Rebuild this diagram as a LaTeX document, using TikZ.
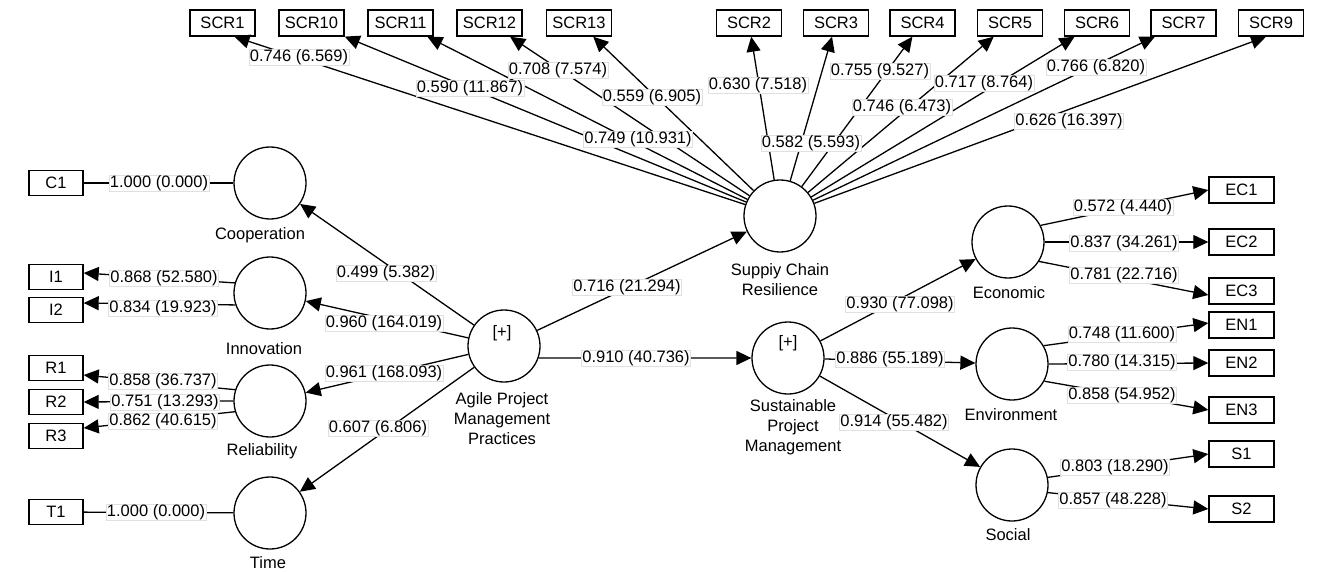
\documentclass[tikz,border=0pt]{standalone}
\usepackage{fontspec}
\setmainfont{Liberation Sans}
\usetikzlibrary{arrows.meta}
\begin{document}
\begin{tikzpicture}[x=1pt,y=-1pt,
  every node/.style={font=\fontsize{16.5}{20}\selectfont},
  lv/.style={circle, draw, line width=1.3pt, minimum size=72pt, inner sep=0pt},
  ind/.style={draw, line width=1.4pt, minimum width=54pt, minimum height=25pt, inner sep=0pt},
  indr/.style={ind, minimum width=65pt, minimum height=26pt},
  lbl/.style={fill=white, draw=black!12, line width=0.4pt, inner xsep=1pt, inner ysep=0.5pt, text height=12pt, text depth=3.5pt},
  lvtext/.style={inner sep=0pt, align=center},
  conn/.style={line width=1.3pt},
  arr/.style={conn, -{Triangle[length=15pt,width=14pt]}}
]
\useasboundingbox (0,0) rectangle (1322,572);

% latent variables
\node[lv] (coop) at (270,183) {};
\node[lv] (inn) at (270,293) {};
\node[lv] (rel) at (270,401) {};
\node[lv] (time) at (270,513) {};
\node[lv] (agile) at (504,346) {};
\node[lv] (scr) at (780,216) {};
\node[lv] (sust) at (788,358) {};
\node[lv] (eco) at (1008,242) {};
\node[lv] (env) at (1012,364) {};
\node[lv] (soc) at (1012,485) {};

% texts of latent variables
\node[lvtext] (tcoop) at (260,235) {Cooperation};
\node[lvtext] (tinn) at (264,349) {Innovation};
\node[lvtext] (trel) at (262,451) {Reliability};
\node[lvtext] (ttime) at (268,563) {Time};
\node[lvtext] (tagile) at (502,419) {Agile Project\\Management\\Practices};
\node[lvtext] (tscr) at (780,280) {Suppiy Chain\\Resilience};
\node[lvtext] (tsust) at (793,427) {Sustainable\\Project\\Management};
\node[lvtext] (teco) at (1009,293) {Economic};
\node[lvtext] (tenv) at (1011,415) {Environment};
\node[lvtext] (tsoc) at (1008,535) {Social};
\node[lvtext] (pagile) at (502,333) {[+]};
\node[lvtext] (psust) at (788,343) {[+]};

% indicators left
\node[ind] (c1) at (56,183) {C1};
\node[ind] (i1) at (56,277) {I1};
\node[ind] (i2) at (56,310) {I2};
\node[ind] (r1) at (56,368) {R1};
\node[ind] (r2) at (56,402) {R2};
\node[ind] (r3) at (56,436) {R3};
\node[ind] (t1) at (56,512) {T1};

% indicators right
\node[indr] (ec1) at (1241.5,190) {EC1};
\node[indr] (ec2) at (1241.5,242) {EC2};
\node[indr] (ec3) at (1241.5,291) {EC3};
\node[indr] (en1) at (1241.5,325) {EN1};
\node[indr] (en2) at (1241.5,363) {EN2};
\node[indr] (en3) at (1241.5,410) {EN3};
\node[indr] (so1) at (1241.5,454) {S1};
\node[indr] (so2) at (1241.5,509) {S2};

% indicators top
\node[indr] (scr1) at (222.5,23) {SCR1};
\node[indr] (scr10) at (311.5,23) {SCR10};
\node[indr] (scr11) at (400.5,23) {SCR11};
\node[indr] (scr12) at (489.5,23) {SCR12};
\node[indr] (scr13) at (579,23) {SCR13};
\node[indr] (scr2) at (749,23) {SCR2};
\node[indr] (scr3) at (836,23) {SCR3};
\node[indr] (scr4) at (922.5,23) {SCR4};
\node[indr] (scr5) at (1010,23) {SCR5};
\node[indr] (scr6) at (1097,23) {SCR6};
\node[indr] (scr7) at (1183.5,23) {SCR7};
\node[indr] (scr9) at (1271,23) {SCR9};

% connectors: SCR fan
\draw[arr] (scr) -- ([xshift=12pt]scr1.south);
\draw[arr] (scr) -- (scr10);
\draw[arr] (scr) -- (scr11);
\draw[arr] (scr) -- (scr12);
\draw[arr] (scr) -- (scr13);
\draw[arr] (scr) -- (scr2);
\draw[arr] (scr) -- (scr3);
\draw[arr] (scr) -- (scr4);
\draw[arr] (scr) -- (scr5);
\draw[arr] (scr) -- (scr6);
\draw[arr] (scr) -- (scr7);
\draw[arr] (scr) -- ([xshift=-5pt]scr9.south);

% left indicators
\draw[conn] (c1) -- (coop);
\draw[arr] (inn.164) -- ([yshift=4pt]i1.east);
\draw[arr] (inn.199) -- ([yshift=7pt]i2.east);
\draw[arr] (rel.162) -- ([yshift=-7pt]r1.east);
\draw[arr] (rel.180) -- (r2.east);
\draw[arr] (rel.197) -- ([yshift=8pt]r3.east);
\draw[conn] (t1) -- (time);

% structural
\draw[arr] (agile) -- (coop);
\draw[arr] (agile) -- (inn);
\draw[arr] (agile) -- (rel);
\draw[arr] (agile) -- (time);
\draw[arr] (agile) -- (scr);
\draw[arr] (agile.-19.5) -- (sust.west);
\draw[arr] (sust) -- (eco);
\draw[arr] (sust) -- (env);
\draw[arr] (sust) -- (soc);

% right indicators
\draw[arr] (eco.27) -- (ec1.west);
\draw[arr] (eco.0) -- (ec2.west);
\draw[arr] (eco.-32) -- ([yshift=-4pt]ec3.west);
\draw[arr] (env.30) -- ([yshift=2pt]en1.west);
\draw[arr] (env.0) -- (en2.west);
\draw[arr] (env.-28) -- (en3.west);
\draw[arr] (soc.12) -- (so1.west);
\draw[arr] (soc.-12) -- (so2.west);

% labels: SCR fan
\node[lbl] (l1) at (299,57) {0.746 (6.569)};
\node[lbl] (l10) at (470,88) {0.590 (11.867)};
\node[lbl] (l11) at (638,139) {0.749 (10.931)};
\node[lbl] (l12) at (558,70) {0.708 (7.574)};
\node[lbl] (l13) at (652,97) {0.559 (6.905)};
\node[lbl] (l2) at (758,85) {0.630 (7.518)};
\node[lbl] (l3) at (811,143) {0.582 (5.593)};
\node[lbl] (l4) at (880,71) {0.755 (9.527)};
\node[lbl] (l5) at (902,107) {0.746 (6.473)};
\node[lbl] (l6) at (984,83) {0.717 (8.764)};
\node[lbl] (l7) at (1096,67) {0.766 (6.820)};
\node[lbl] (l9) at (1069,121) {0.626 (16.397)};

% labels: left
\node[lbl] (lc1) at (159,183) {1.000 (0.000)};
\node[lbl] (li1) at (164,278) {0.868 (52.580)};
\node[lbl] (li2) at (163,308) {0.834 (19.923)};
\node[lbl] (lr1) at (163,381) {0.858 (36.737)};
\node[lbl] (lr2) at (165,402) {0.751 (13.293)};
\node[lbl] (lr3) at (163,421) {0.862 (40.615)};
\node[lbl] (lt1) at (156,512) {1.000 (0.000)};

% labels: structural
\node[lbl] (lcoop) at (386,273) {0.499 (5.382)};
\node[lbl] (linn) at (384,323) {0.960 (164.019)};
\node[lbl] (lrel) at (384,373) {0.961 (168.093)};
\node[lbl] (ltime) at (378,428) {0.607 (6.806)};
\node[lbl] (lscr) at (627,287) {0.716 (21.294)};
\node[lbl] (lsust) at (636,358) {0.910 (40.736)};
\node[lbl] (leco) at (900,304) {0.930 (77.098)};
\node[lbl] (lenv) at (890,359) {0.886 (55.189)};
\node[lbl] (lsoc) at (894,422) {0.914 (55.482)};

% labels: right
\node[lbl] (lec1) at (1123,207) {0.572 (4.440)};
\node[lbl] (lec2) at (1124,243) {0.837 (34.261)};
\node[lbl] (lec3) at (1124,275) {0.781 (22.716)};
\node[lbl] (len1) at (1122,334) {0.748 (11.600)};
\node[lbl] (len2) at (1122,362) {0.780 (14.315)};
\node[lbl] (len3) at (1122,395) {0.858 (54.952)};
\node[lbl] (lso1) at (1115,467) {0.803 (18.290)};
\node[lbl] (lso2) at (1113,500) {0.857 (48.228)};
\end{tikzpicture}
\end{document}
